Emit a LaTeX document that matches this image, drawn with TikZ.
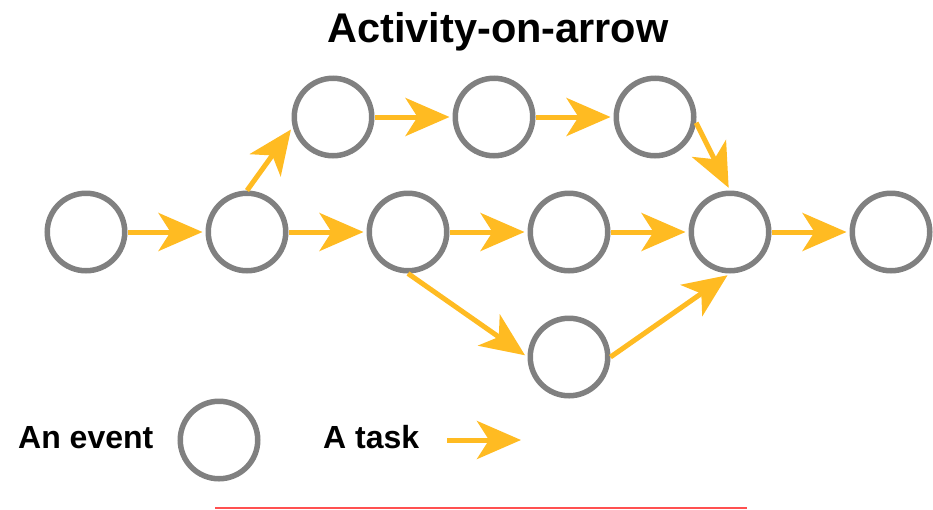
\documentclass[tikz,border=0pt]{standalone}
\usepackage{fontspec}
\setmainfont{Liberation Sans}
\usetikzlibrary{arrows.meta, positioning}
\definecolor{eventgrey}{RGB}{128,128,128}
\definecolor{taskgold}{RGB}{255,187,34}
\definecolor{rulered}{RGB}{255,80,80}
\tikzset{
		event/.style = {circle, draw = eventgrey, line width = 5.5pt, minimum size = 77.5pt, inner sep = 0pt},
		task/.style = {draw = taskgold, line width = 5pt, -{Stealth[length = 44pt, width = 38pt, inset = 12pt]}, shorten >= 3pt},
		legend text/.style = {font = \bfseries\fontsize{32}{35}\selectfont, anchor = base west, inner sep = 0pt}
	}

\begin{document}
\begin{tikzpicture}[x = 1pt, y = -1pt, node distance = 161pt]
				\useasboundingbox (0,0) rectangle (933,509);
				\node[font = \bfseries\fontsize{41.5}{45}\selectfont, anchor = base, inner sep = 0pt] (title) at (498,42) {Activity-on-arrow};

				\node[event] (e0) at (86,232)        {};
				\node[event] (e1) [right of = e0]    {};
				\node[event] (e2) [right of = e1]    {};
				\node[event] (e3) [right of = e2]    {};
				\node[event] (e4) [right of = e3]    {};
				\node[event] (e5) [right of = e4]    {};
				\node[event] (e6) at (333,117)       {};
				\node[event] (e7) [right of = e6]    {};
				\node[event] (e8) [right of = e7]    {};
				\node[event] (e9) [node distance = 125pt, below of = e3] {};

				\draw[task] (e0) -- (e1);
				\draw[task] (e1) -- (e2);
				\draw[task] (e2) -- (e3);
				\draw[task] (e3) -- (e4);
				\draw[task] (e4) -- (e5);
				\draw[task] (e1.north) -- (e6.194);
				\draw[task] (e6) -- (e7);
				\draw[task] (e7) -- (e8);
				\draw[task] (e8.352) -- (e4.north);
				\draw[task] (e2.south) -- (e9.west);
				\draw[task] (e9.east) -- (e4.south);

				% legend
				\node[legend text] (evtext)   at (18,448)  {An event};
				\node[event]       (evlegend) at (219,440) {};
				\node[legend text] (tasktext) at (323,448) {A task};
				\coordinate (tfrom) at (447,440);
				\coordinate (tto)   at (521,440);
				\draw[task, shorten >= 0pt] (tfrom) -- (tto);

				\coordinate (rfrom) at (215,508);
				\coordinate (rto)   at (747,508);
				\draw[rulered, line width = 2.5pt] (rfrom) -- (rto);
			\end{tikzpicture}
\end{document}
